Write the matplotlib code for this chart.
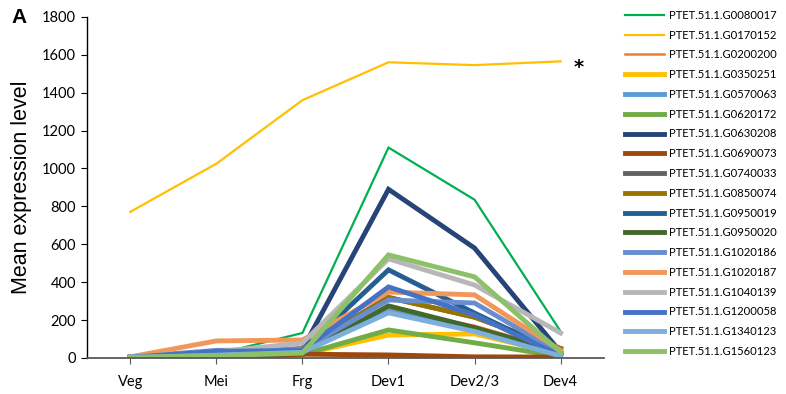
import matplotlib.pyplot as plt

stages = ['Veg', 'Mei', 'Frg', 'Dev1', 'Dev2/3', 'Dev4']

genes = ['PTET.51.1.G0080017', 'PTET.51.1.G0170152', 'PTET.51.1.G0200200',
         'PTET.51.1.G0350251', 'PTET.51.1.G0570063', 'PTET.51.1.G0620172',
         'PTET.51.1.G0630208', 'PTET.51.1.G0690073', 'PTET.51.1.G0740033',
         'PTET.51.1.G0850074', 'PTET.51.1.G0950019', 'PTET.51.1.G0950020',
         'PTET.51.1.G1020186', 'PTET.51.1.G1020187', 'PTET.51.1.G1040139',
         'PTET.51.1.G1200058', 'PTET.51.1.G1340123', 'PTET.51.1.G1560123']

g0080017 = [2, 20, 132, 1110, 835, 140]
g0170152 = [771, 1025, 1360, 1560, 1545, 1565]
g0200200 = [3, 12, 30, 260, 170, 40]
g0350251 = [2, 8, 20, 121, 127, 20]
g0570063 = [4, 15, 30, 245, 150, 25]
g0620172 = [2, 8, 18, 148, 80, 8]
g0630208 = [6, 30, 45, 890, 580, 30]
g0690073 = [1, 3, 20, 16, 6, 5]
g0740033 = [5, 25, 50, 320, 215, 50]
g0850074 = [4, 20, 40, 318, 216, 50]
g0950019 = [5, 30, 40, 465, 237, 20]
g0950020 = [3, 10, 25, 275, 160, 30]
g1020186 = [5, 40, 45, 306, 290, 25]
g1020187 = [6, 90, 95, 348, 333, 40]
g1040139 = [6, 32, 79, 523, 385, 132]
g1200058 = [4, 35, 40, 375, 227, 12]
g1340123 = [3, 15, 30, 238, 140, 10]
g1560123 = [3, 12, 26, 544, 428, 30]

values = [g0080017, g0170152, g0200200, g0350251, g0570063, g0620172,
          g0630208, g0690073, g0740033, g0850074, g0950019, g0950020,
          g1020186, g1020187, g1040139, g1200058, g1340123, g1560123]

colors = ['#00B050', '#FFC000', '#ED7D31', '#FFC000', '#5B9BD5', '#70AD47',
          '#264478', '#9E480E', '#636363', '#997300', '#255E91', '#43682B',
          '#698ED0', '#F1975A', '#B7B7B7', '#4472C4', '#7CAFDD', '#8CC168']

widths = [1.6, 1.6, 1.8] + [3.5] * 15

fig = plt.figure(figsize=(7.86, 3.94), dpi=100)
ax = fig.add_axes([0.111, 0.0914, 0.657, 0.866])

for name, vals, c, w in zip(genes, values, colors, widths):
    ax.plot(stages, vals, color=c, lw=w, label=name, solid_joinstyle='miter')

ax.set_xlim(-0.5, 5.5)
ax.set_ylim(0, 1800)
ax.set_yticks(range(0, 1801, 200))
ax.spines['top'].set_visible(False)
ax.spines['right'].set_visible(False)
ax.spines['bottom'].set_color('#595959')
ax.spines['bottom'].set_linewidth(1.3)
ax.spines['left'].set_linewidth(1.0)
ax.tick_params(axis='y', length=4, labelsize=10.5, pad=4)
ax.tick_params(axis='x', length=4, color='#595959', labelsize=10.5, pad=8)
for t in ax.get_xticklabels() + ax.get_yticklabels():
    t.set_fontfamily('Lato')
ax.set_ylabel('Mean expression level', fontsize=15.5, family='Liberation Sans', labelpad=7)

ax.text(5.15, 1535, '*', fontsize=14, fontweight='bold',
        va='center', ha='left')
fig.text(0.015, 0.955, 'A', fontsize=15, fontweight='bold',
         family='Liberation Sans', va='center')

fig.legend(loc='upper left', bbox_to_anchor=(0.785, 0.995), frameon=False,
           prop={'family': 'Lato', 'size': 8.1}, handlelength=3.5,
           labelspacing=0.78, handletextpad=0.4, borderaxespad=0.3)

fig.savefig('out.png', dpi=100)
